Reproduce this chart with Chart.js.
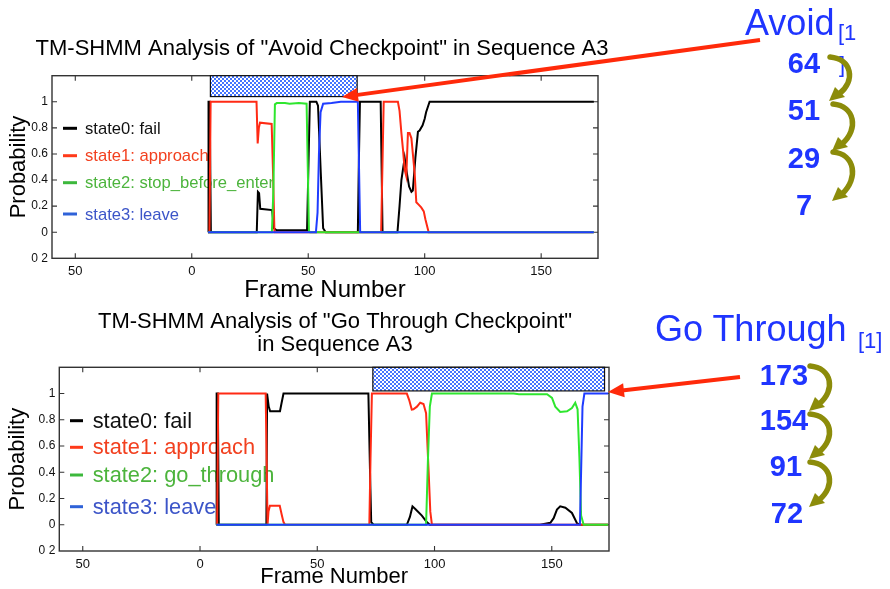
<!DOCTYPE html>
<html><head><meta charset="utf-8">
<script src="https://cdn.jsdelivr.net/npm/chart.js@4.4.1/dist/chart.umd.min.js"></script>
<style>
html,body{margin:0;padding:0;background:#fff;width:890px;height:589px;overflow:hidden;}
#c1{position:absolute;left:0;top:0;}
#c2{position:absolute;left:0;top:305px;}
#ov{position:absolute;left:0;top:0;}
</style></head><body>
<canvas id="c1" width="644" height="305"></canvas>
<canvas id="c2" width="670" height="284"></canvas>
<svg id="ov" width="890" height="589" xmlns="http://www.w3.org/2000/svg"></svg>
<script>
// ---------- data ----------
const xTickValues = [-50, 0, 50, 100, 150];
const xTickLabels = ['50', '0', '50', '100', '150'];
const yTickValues = [-0.2, 0, 0.2, 0.4, 0.6, 0.8, 1];
const yTickLabels = ['0 2', '0', '0.2', '0.4', '0.6', '0.8', '1'];

const avoidTitle = 'TM-SHMM Analysis of "Avoid Checkpoint" in Sequence A3';
const goTitle = ['TM-SHMM Analysis of "Go Through Checkpoint"', 'in Sequence A3'];
const avoidLabels = ['state0: fail', 'state1: approach', 'state2: stop_before_enter', 'state3: leave'];
const goLabels = ['state0: fail', 'state1: approach', 'state2: go_through', 'state3: leave'];

// Avoid chart
const avoidFailFrames = [7, 7.2, 7.7, 8.2, 27.9, 28.4, 28.9, 29.4, 34.5, 35.3, 36.4, 49.5, 50.2, 50.7, 53.5, 54.2, 55.4, 56.4, 57.5, 71.3, 71.7, 72.2, 81.1, 81.9, 88.3, 89.2, 90.0, 91.4, 92.1, 93.3, 94.3, 94.9, 96.0, 97.1, 97.8, 99.1, 100.0, 100.6, 102.1, 172.6];
const avoidFailProb   = [0, 1, 1, 0, 0, 0.31, 0.30, 0.18, 0.17, 0.03, 0.015, 0.015, 0.6, 1, 1, 0.97, 0.45, 0.03, 0, 0, 0.5, 1, 1, 0, 0, 0.2, 0.4, 0.57, 0.48, 0.35, 0.31, 0.32, 0.57, 0.77, 0.78, 0.82, 0.87, 0.92, 1, 1];
const avoidApproachFrames = [7, 7.6, 8.1, 27.8, 28.3, 28.8, 29.3, 34.3, 34.9, 35.5, 81.3, 82.4, 88.5, 89.2, 90.0, 90.7, 91.4, 92.1, 92.8, 93.5, 94.3, 95.7, 96.4, 97.5, 98.5, 99.6, 100.3, 101.7, 172.6];
const avoidApproachProb   = [0, 0, 1, 1, 0.68, 0.80, 0.84, 0.83, 0.45, 0, 0, 1, 1, 0.93, 0.76, 0.63, 0.48, 0.43, 0.76, 0.76, 0.72, 0.45, 0.23, 0.21, 0.19, 0.16, 0.10, 0, 0];
const avoidStopFrames = [7, 34.4, 35.0, 35.7, 36.5, 40, 42, 46, 49.3, 49.8, 50.3, 50.8, 172.6];
const avoidStopProb   = [0, 0, 0.3, 0.98, 0.99, 0.99, 0.985, 0.99, 0.985, 0.5, 0.01, 0, 0];
const avoidLeaveFrames = [7, 53.3, 54.0, 54.6, 55.3, 56.4, 60, 64, 71.3, 71.8, 72.3, 172.6];
const avoidLeaveProb   = [0, 0, 0.15, 0.6, 0.92, 0.985, 0.99, 1, 1, 0.5, 0, 0];
const avoidMarkedFrames = [8, 71];
const avoidMarkedProb = [1.04, 1.2];

// Go Through chart
const goFailFrames = [7, 7.1, 7.6, 8.0, 28.3, 28.6, 29.3, 29.9, 34.1, 34.8, 35.6, 71.8, 72.5, 73.0, 74, 88.2, 89.5, 90.6, 91.8, 94.6, 96.7, 98, 145, 149.4, 150.8, 152.2, 153.6, 155.8, 158.6, 160.8, 162, 174];
const goFailProb   = [0, 1, 1, 0, 0, 1, 0.9, 0.865, 0.865, 0.93, 1, 1, 0.4, 0.02, 0, 0, 0.06, 0.14, 0.12, 0.07, 0.02, 0, 0, 0.015, 0.05, 0.115, 0.14, 0.13, 0.09, 0.01, 0, 0];
const goApproachFrames = [7, 7.3, 7.8, 28.0, 28.4, 28.8, 29.2, 29.8, 34.0, 34.8, 35.6, 36.3, 72.2, 72.7, 73.3, 88.2, 89.2, 90.3, 91.0, 92.5, 93.9, 95.3, 96.4, 97.0, 97.5, 98.2, 98.9, 174];
const goApproachProb   = [0, 0, 1, 1, 0.5, 0, 0.1, 0.145, 0.145, 0.08, 0.02, 0, 0, 0.5, 1, 1, 0.95, 0.878, 0.88, 0.9, 0.93, 0.92, 0.85, 0.6, 0.4, 0.1, 0, 0];
const goThroughFrames = [7, 96.4, 97.2, 98.0, 98.9, 133.7, 136, 148, 150.1, 151.5, 153.6, 156.5, 158.6, 160.0, 161.0, 161.8, 162.5, 163.6, 174];
const goThroughProb   = [0, 0, 0.5, 0.9, 1, 1, 0.995, 0.995, 0.967, 0.9, 0.86, 0.865, 0.89, 0.93, 0.88, 0.5, 0.07, 0, 0];
const goLeaveFrames = [7, 162.0, 162.5, 163.1, 163.9, 174];
const goLeaveProb   = [0, 0, 0.4, 0.9, 1, 1];
const goMarkedFrames = [73.7, 172.5];
const goMarkedProb = [1.02, 1.2];

const avoidSequence = ['64', '51', '29', '7'];
const goSequence = ['173', '154', '91', '72'];

// ---------- styles ----------
const FONT = '"Liberation Sans", Arial, Helvetica, sans-serif';
const stateColors = ['#000000', '#ff2a14', '#2ee62e', '#1f3cff'];
const legendTextColors = ['#111111', '#f2401f', '#4cb43c', '#3c55c8'];
const legendMarkColors = ['#000000', '#ff3a1a', '#3cb83c', '#2f62d8'];

function makePattern() {
  const p = document.createElement('canvas');
  p.width = 4; p.height = 4;
  const g = p.getContext('2d');
  g.fillStyle = '#ffffff'; g.fillRect(0, 0, 4, 4);
  g.fillStyle = '#4474ff'; g.fillRect(0, 0, 2, 2); g.fillRect(2, 2, 2, 2);
  return p;
}
const patternCanvas = makePattern();

const framePlugin = {
  id: 'frame',
  beforeDatasetsDraw(chart, args, o) {
    const {ctx, chartArea: a, scales: {x, y}} = chart;
    ctx.save();
    // legend (under the data lines)
    ctx.font = o.legendSize + 'px ' + FONT;
    ctx.textBaseline = 'middle';
    ctx.textAlign = 'left';
    o.labels.forEach((t, i) => {
      const yy = o.legendY[i];
      ctx.strokeStyle = legendMarkColors[i];
      ctx.lineWidth = 3;
      ctx.beginPath(); ctx.moveTo(o.legendX[0], yy); ctx.lineTo(o.legendX[1], yy); ctx.stroke();
      ctx.fillStyle = legendTextColors[i];
      ctx.fillText(t, o.legendX[2], yy + 1);
    });
    // frame
    ctx.strokeStyle = '#333'; ctx.lineWidth = 1.4;
    ctx.strokeRect(a.left, a.top, a.right - a.left, a.bottom - a.top);
    const L = 5;
    ctx.lineWidth = 1.1;
    ctx.beginPath();
    yTickValues.forEach(v => {
      const p = y.getPixelForValue(v);
      if (p > a.top + 2 && p < a.bottom - 2) {
        ctx.moveTo(a.left, p); ctx.lineTo(a.left + L, p);
        ctx.moveTo(a.right, p); ctx.lineTo(a.right - L, p);
      }
    });
    xTickValues.forEach(v => {
      const p = x.getPixelForValue(v);
      ctx.moveTo(p, a.top); ctx.lineTo(p, a.top + L);
      ctx.moveTo(p, a.bottom); ctx.lineTo(p, a.bottom - L);
    });
    ctx.stroke();
    // marked interval
    const x0 = x.getPixelForValue(o.markFrames[0]), x1 = x.getPixelForValue(o.markFrames[1]);
    const y0 = y.getPixelForValue(o.markProb[1]), y1 = y.getPixelForValue(o.markProb[0]);
    ctx.fillStyle = ctx.createPattern(patternCanvas, 'repeat');
    ctx.fillRect(x0, y0, x1 - x0, y1 - y0);
    ctx.strokeStyle = '#111'; ctx.lineWidth = 1.2;
    ctx.strokeRect(x0, y0, x1 - x0, y1 - y0);
    ctx.restore();
  }
};

function pts(xs, ys) { return xs.map((v, i) => ({x: v, y: ys[i]})); }

function buildChart(id, o) {
  const datasets = o.series.map((s, i) => ({
    label: o.labels[i], data: pts(s[0], s[1]), borderColor: stateColors[i],
    borderWidth: 2, pointRadius: 0, fill: false, tension: 0, order: 4 - i, yAxisID: 'y'
  }));
  return new Chart(document.getElementById(id), {
    type: 'line',
    data: {datasets},
    options: {
      responsive: false, animation: false, events: [],
      layout: {autoPadding: false, padding: {left: 0, right: 0, top: 0, bottom: 0}},
      plugins: {
        legend: {display: false}, tooltip: {enabled: false},
        title: {display: true, text: o.title, color: '#000', fullSize: true,
          font: {family: FONT, size: o.titleSize, weight: 'normal', lineHeight: o.titleLH}, padding: o.titlePad},
        frame: {labels: o.labels, legendX: o.legendX, legendY: o.legendY, legendSize: o.legendSize,
          markFrames: o.markFrames, markProb: o.markProb}
      },
      scales: {
        x: {
          type: 'linear', min: -60, max: o.xMax,
          afterBuildTicks: s => { s.ticks = xTickValues.map(v => ({value: v})); },
          ticks: {callback: (v, i) => xTickLabels[i], font: {family: FONT, size: 13}, color: '#111',
            padding: o.xTickPad, maxRotation: 0, autoSkip: false},
          grid: {display: false, drawTicks: false}, border: {display: false},
          title: {display: true, text: 'Frame Number', color: '#000',
            font: {family: FONT, size: o.xTitleSize, lineHeight: 1}, padding: {top: 0, bottom: o.xTitlePadB}},
          afterFit: s => { s.height = o.xHeight; }
        },
        y: {
          type: 'linear', position: 'left', min: -0.2, max: 1.2,
          afterBuildTicks: s => { s.ticks = yTickValues.map(v => ({value: v})); },
          ticks: {callback: (v, i) => yTickLabels[i], font: {family: FONT, size: 12}, color: '#111', padding: 4},
          grid: {display: false, drawTicks: false}, border: {display: false},
          title: {display: true, text: 'Probability', color: '#000',
            font: {family: FONT, size: 22, lineHeight: 1}, padding: {top: o.yTitlePad, bottom: 0}},
          afterFit: s => { s.width = o.yWidth; }
        },
        yRight: {
          type: 'linear', position: 'right', min: -0.2, max: 1.2, display: true,
          ticks: {display: false}, grid: {display: false, drawTicks: false}, border: {display: false},
          afterFit: s => { s.width = o.rightWidth; }
        }
      }
    },
    plugins: [framePlugin]
  });
}

buildChart('c1', {
  title: avoidTitle, labels: avoidLabels,
  series: [[avoidFailFrames, avoidFailProb], [avoidApproachFrames, avoidApproachProb],
           [avoidStopFrames, avoidStopProb], [avoidLeaveFrames, avoidLeaveProb]],
  rightWidth: 46,
  titleSize: 22, titleLH: 1.2, titlePad: {top: 35.8, bottom: 13.5},
  xMax: 174.4, xHeight: 46.7, xTickPad: 5, xTitleSize: 24, xTitlePadB: 3,
  yWidth: 52, yTitlePad: 8,
  legendX: [63, 77, 85], legendY: [128.3, 155.7, 182.7, 214], legendSize: 16.6,
  markFrames: avoidMarkedFrames, markProb: avoidMarkedProb
});

buildChart('c2', {
  title: goTitle, labels: goLabels,
  series: [[goFailFrames, goFailProb], [goApproachFrames, goApproachProb],
           [goThroughFrames, goThroughProb], [goLeaveFrames, goLeaveProb]],
  rightWidth: 61,
  titleSize: 22, titleLH: 1.05, titlePad: {top: 5.45, bottom: 10.65},
  xMax: 174.4, xHeight: 38, xTickPad: 6, xTitleSize: 22, xTitlePadB: 1,
  yWidth: 59.3, yTitlePad: 7,
  legendX: [70, 83, 92.7], legendY: [115.7, 142.3, 170, 201.7], legendSize: 21.8,
  markFrames: goMarkedFrames, markProb: goMarkedProb
});

// ---------- overlay annotations ----------
const NS = 'http://www.w3.org/2000/svg';
const svg = document.getElementById('ov');
function el(tag, attrs, text) {
  const e = document.createElementNS(NS, tag);
  for (const k in attrs) e.setAttribute(k, attrs[k]);
  if (text !== undefined) e.textContent = text;
  svg.appendChild(e);
  return e;
}
function redArrow(sx, sy, tx, ty) {
  const dx = tx - sx, dy = ty - sy, len = Math.hypot(dx, dy);
  const ux = dx / len, uy = dy / len, hl = 16, hw = 7;
  const bx = tx - ux * hl, by = ty - uy * hl;
  el('line', {x1: sx, y1: sy, x2: bx + ux * 2, y2: by + uy * 2, stroke: '#ff2a0a', 'stroke-width': 4});
  el('polygon', {points: `${tx},${ty} ${bx - uy * hw},${by + ux * hw} ${bx + uy * hw},${by - ux * hw}`, fill: '#ff2a0a'});
}
redArrow(760, 40, 342, 97);
redArrow(740, 377, 608, 392);

function oliveArrow(x, ya, yb) {
  const h = yb - ya;
  el('path', {d: `M ${x} ${ya} C ${x + 22} ${ya + 2}, ${x + 26} ${yb - h * 0.45}, ${x + 9} ${yb - 6}`,
    fill: 'none', stroke: '#8c8c0a', 'stroke-width': 5.5, 'stroke-linecap': 'round'});
  el('polygon', {points: `${x - 1},${yb + 1} ${x + 5},${yb - 13} ${x + 15},${yb - 3}`, fill: '#8c8c0a'});
}

const blue = '#1f35ff';
el('text', {x: 745, y: 35, fill: blue, 'font-family': FONT, 'font-size': 36}, 'Avoid');
el('text', {x: 838, y: 40, fill: blue, 'font-family': FONT, 'font-size': 22}, '[1');
el('text', {x: 839, y: 72, fill: blue, 'font-family': FONT, 'font-size': 22}, ']');
const avoidY = [73, 120, 168, 215];
avoidSequence.forEach((t, i) => el('text', {x: 804, y: avoidY[i], fill: blue, 'font-family': FONT,
  'font-size': 29, 'font-weight': 'bold', 'text-anchor': 'middle'}, t));
oliveArrow(830, 57, 100);
oliveArrow(833, 104, 150);
oliveArrow(833, 152, 200);

el('text', {x: 655, y: 341, fill: blue, 'font-family': FONT, 'font-size': 36}, 'Go Through');
el('text', {x: 858, y: 348, fill: blue, 'font-family': FONT, 'font-size': 22}, '[1]');
const goY = [385, 430, 476, 523];
const goX = [784, 784, 786, 787];
goSequence.forEach((t, i) => el('text', {x: goX[i], y: goY[i], fill: blue, 'font-family': FONT,
  'font-size': 29, 'font-weight': 'bold', 'text-anchor': 'middle'}, t));
oliveArrow(810, 366, 410);
oliveArrow(810, 414, 458);
oliveArrow(810, 462, 506);
</script>
</body></html>
